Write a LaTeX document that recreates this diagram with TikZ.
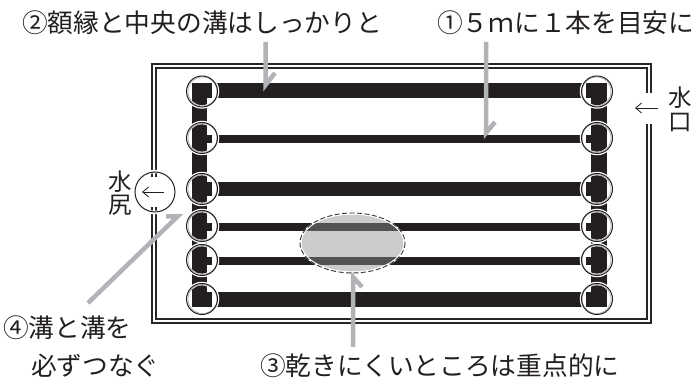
\documentclass[tikz,border=0pt]{standalone}
\usepackage{fontspec}
\setmainfont{Noto Sans CJK JP}
\usetikzlibrary{calc,arrows.meta}
\definecolor{pointer}{HTML}{B1B3B6}
\definecolor{channel}{HTML}{231F20}
\tikzset{
  label/.style={inner sep=0pt,text=channel,font=\fontsize{25.7}{26}\selectfont},
  smalllabel/.style={inner sep=0pt,text=channel,font=\fontsize{23.5}{24}\selectfont},
  joint/.style={circle,minimum size=31pt,inner sep=0pt,draw=channel,line width=1pt},
  halo/.style={circle,minimum size=34.5pt,inner sep=0pt,fill=white},
  innerring/.style={circle,minimum size=29pt,inner sep=0pt,draw=black!40,line width=.5pt},
  pointerline/.style={draw=pointer,line width=4.5pt,line join=miter},
  flowarrow/.style={draw=channel,line width=.8pt,-{Straight Barb[length=6pt,width=10pt,line width=.8pt]}},
}
\begin{document}
\begin{tikzpicture}[x=1pt,y=-1pt,>=latex]
  \useasboundingbox (0,0) rectangle (697,379);
  % frame
  \coordinate (A) at (152,64);
  \coordinate (B) at (651,323);
  \coordinate (C) at (156,68);
  \coordinate (D) at (647,319);
  \draw[black!85,line width=1.2pt] (A) rectangle (B);
  \draw[black!85,line width=1.2pt] (C) rectangle (D);
  \fill[white] (640,93) rectangle (660,124);
  \fill[white] (146,177) rectangle (162,207);
  % side channels
  \fill[channel] (192,83) rectangle (207,307);
  \fill[channel] (591,83) rectangle (607,307);
  % cross channels
  \foreach \y/\h in {83/15,182/14,292/15}
    \fill[channel] (192,\y) rectangle (607,\y+\h);
  \foreach \y in {135,223,257}
    \fill[channel] (192,\y) rectangle (607,\y+8);
  % joints
  \foreach \name/\y/\t/\h in {a/91.5/83/15,b/138/135/8,c/189/182/14,d/226/223/8,e/260/257/8,f/299/292/15}{
    \node[halo] at (202,\y) {};
    \node[halo] at (597,\y) {};
    \begin{scope}
      \clip (202,\y) circle (13.6);
      \fill[channel] (192,83) rectangle (207,307);
      \fill[channel] (192,\t) rectangle (212,\t+\h);
    \end{scope}
    \begin{scope}
      \clip (597,\y) circle (13.6);
      \fill[channel] (591,83) rectangle (607,307);
      \fill[channel] (586,\t) rectangle (607,\t+\h);
    \end{scope}
    \node[innerring] at (202.5,\y) {};
    \node[joint] (left\name) at (202,\y) {};
    \node[innerring] at (596.5,\y) {};
    \node[joint] (right\name) at (597,\y) {};
  }
  % dry spot
  \begin{scope}
    \clip (352.5,243) ellipse [x radius=51,y radius=28.5];
    \fill[black!20] (290,210) rectangle (410,280);
    \fill[black!68] (290,223) rectangle (410,231);
    \fill[black!68] (290,257) rectangle (410,265);
  \end{scope}
  \draw[white,line width=2pt] (352.5,243) ellipse [x radius=52,y radius=29.5];
  \draw[black!80,dash pattern=on 5pt off 2.5pt,line width=.9pt] (352.5,243) ellipse [x radius=52.5,y radius=30];
  % outlet
  \node[circle,minimum size=41pt,inner sep=0pt,draw=white,line width=3.5pt] at (155,192) {};
  \node[circle,minimum size=40pt,inner sep=0pt,draw=channel,line width=1pt] (outlet) at (155,192) {};
  \coordinate (E) at (164,192);
  \coordinate (F) at (142,192);
  \draw[flowarrow] (E) -- (F);
  \node[smalllabel] (outa) at (120,182) {水};
  \node[smalllabel] (outb) at (120,205) {尻};
  % inlet
  \coordinate (G) at (658,108);
  \coordinate (H) at (635,108);
  \draw[flowarrow] (G) -- (H);
  \node[smalllabel] (ina) at (680,98) {水};
  \node[smalllabel] (inb) at (680,123) {口};
  % pointers
  \coordinate (P1) at (486,42);
  \coordinate (Q1) at (486,133);
  \coordinate (R1) at (495,122);
  \coordinate (P2) at (265.5,42);
  \coordinate (Q2) at (265.5,85);
  \coordinate (R2) at (275,73);
  \coordinate (P3) at (353,347);
  \coordinate (Q3) at (353,277);
  \coordinate (R3) at (362,287);
  \coordinate (P4) at (88,303);
  \coordinate (Q4) at (177.5,216.5);
  \coordinate (R4) at (166,216.5);
  \foreach \p/\q/\r in {P1/Q1/R1,P2/Q2/R2,P3/Q3/R3,P4/Q4/R4}
    \draw[pointerline] (\p) -- (\q) -- (\r);
  % labels
  \node[label,anchor=west] (lab2) at (22,23) {②額縁と中央の溝はしっかりと};
  \node[label,anchor=west] (lab1) at (437,23) {①５ｍに１本を目安に};
  \node[label,anchor=west] (lab3) at (260,366) {③乾きにくいところは重点的に};
  \node[label,anchor=west] (lab4a) at (3,328) {④溝と溝を};
  \node[label,anchor=west] (lab4b) at (31,366) {必ずつなぐ};
\end{tikzpicture}
\end{document}
